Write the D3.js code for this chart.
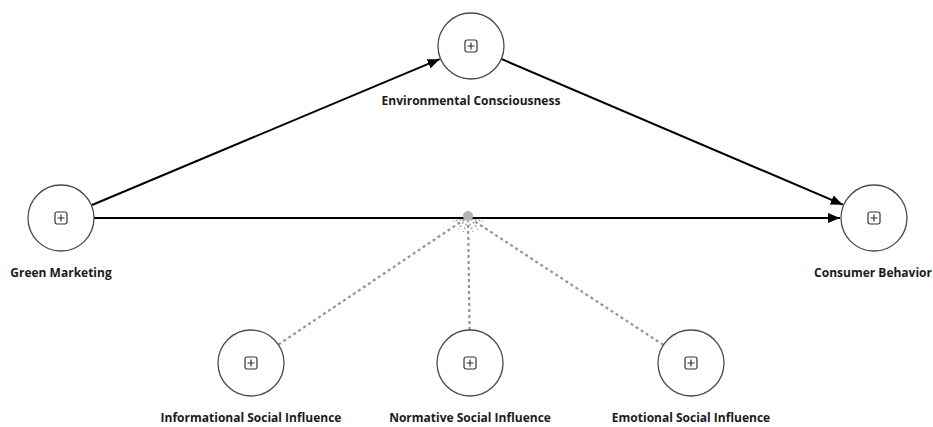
<!DOCTYPE html>
<html>
<head>
<meta charset="utf-8">
<script src="https://cdn.jsdelivr.net/npm/d3@7"></script>
<style>
  html, body { margin: 0; padding: 0; background: #fff; }
  svg { display: block; }
  .lbl { font-family: "Open Sans", "Noto Sans", sans-serif; font-weight: 700; font-size: 12px; fill: #1a1a1a; }
</style>
</head>
<body>
<svg id="chart" width="933" height="427"></svg>
<script>
// ---- data ----
const constructs = ["Green Marketing", "Environmental Consciousness", "Consumer Behavior",
                    "Informational Social Influence", "Normative Social Influence", "Emotional Social Influence"];
const pathFrom = ["Green Marketing", "Environmental Consciousness", "Green Marketing"];
const pathTo   = ["Environmental Consciousness", "Consumer Behavior", "Consumer Behavior"];
const moderators = ["Informational Social Influence", "Normative Social Influence", "Emotional Social Influence"];
const moderatedPath = ["Green Marketing", "Consumer Behavior"];

// ---- layout (not data) ----
const W = 933, H = 427, R = 33;
const x = d3.scaleLinear().domain([0, 1]).range([61, 874]);
const y = d3.scaleLinear().domain([0, 1]).range([46, 363]);
const grid = {
  "Green Marketing": [0, 0.5426],
  "Environmental Consciousness": [0.5043, 0],
  "Consumer Behavior": [1, 0.5426],
  "Informational Social Influence": [0.2337, 1],
  "Normative Social Influence": [0.5031, 1],
  "Emotional Social Influence": [0.7749, 1]
};
const pos = {};
constructs.forEach(c => { pos[c] = { x: x(grid[c][0]), y: y(grid[c][1]) }; });

const svg = d3.select("#chart");
const defs = svg.append("defs");
defs.append("marker")
  .attr("id", "arrow").attr("viewBox", "0 0 12 10")
  .attr("refX", 12).attr("refY", 5)
  .attr("markerWidth", 12).attr("markerHeight", 10)
  .attr("markerUnits", "userSpaceOnUse").attr("orient", "auto")
  .append("path").attr("d", "M0,0 L12,5 L0,10 Z").attr("fill", "#000");

// structural paths
pathFrom.forEach((f, i) => {
  const a = pos[f], b = pos[pathTo[i]];
  const dx = b.x - a.x, dy = b.y - a.y, L = Math.hypot(dx, dy);
  svg.append("line")
    .attr("x1", a.x + dx / L * R).attr("y1", a.y + dy / L * R)
    .attr("x2", b.x - dx / L * (R + 1)).attr("y2", b.y - dy / L * (R + 1))
    .attr("stroke", "#000").attr("stroke-width", 2)
    .attr("marker-end", "url(#arrow)");
});

// moderation point
const ma = pos[moderatedPath[0]];
const mp = { x: pos["Normative Social Influence"].x - 2, y: ma.y - 1 };

const dashColor = "#84a084";
moderators.forEach(m => {
  const a = pos[m];
  const dx = mp.x - a.x, dy = mp.y - a.y, L = Math.hypot(dx, dy);
  const ux = dx / L, uy = dy / L;
  const tip = { x: mp.x - ux * 3, y: mp.y - uy * 3 };
  svg.append("line")
    .attr("x1", a.x + ux * R).attr("y1", a.y + uy * R)
    .attr("x2", tip.x - ux * 2).attr("y2", tip.y - uy * 2)
    .attr("stroke", dashColor).attr("stroke-width", 2.2)
    .attr("stroke-dasharray", "3,3");
  const px = -uy, py = ux, hl = 12, hw = 5;
  [-1, 1].forEach(s => {
    svg.append("line")
      .attr("x1", tip.x).attr("y1", tip.y)
      .attr("x2", tip.x - ux * hl + px * hw * s).attr("y2", tip.y - uy * hl + py * hw * s)
      .attr("stroke", dashColor).attr("stroke-width", 1.6)
      .attr("stroke-dasharray", "2,2").attr("opacity", 0.8);
  });
});
svg.append("circle").attr("cx", mp.x).attr("cy", mp.y - 1).attr("r", 5)
  .attr("fill", "#b4b4b4");

// constructs
const g = svg.selectAll("g.node").data(constructs).join("g")
  .attr("class", "node")
  .attr("transform", d => `translate(${pos[d].x},${pos[d].y})`);
g.append("circle").attr("r", R).attr("fill", "#fff")
  .attr("stroke", "#4a4a4a").attr("stroke-width", 1.3);
g.append("rect").attr("x", -6).attr("y", -6).attr("width", 12).attr("height", 12)
  .attr("rx", 2).attr("fill", "none").attr("stroke", "#333").attr("stroke-width", 1.2);
g.append("path").attr("d", "M-3.5,0 H3.5 M0,-3.5 V3.5").attr("stroke", "#333").attr("stroke-width", 1.2);
g.append("text").attr("class", "lbl")
  .attr("text-anchor", d => d === "Consumer Behavior" ? "end" : "middle")
  .attr("x", d => d === "Consumer Behavior" ? W - 1 - pos[d].x : 0)
  .attr("y", d => R + 26)
  .text(d => d);
</script>
</body>
</html>
